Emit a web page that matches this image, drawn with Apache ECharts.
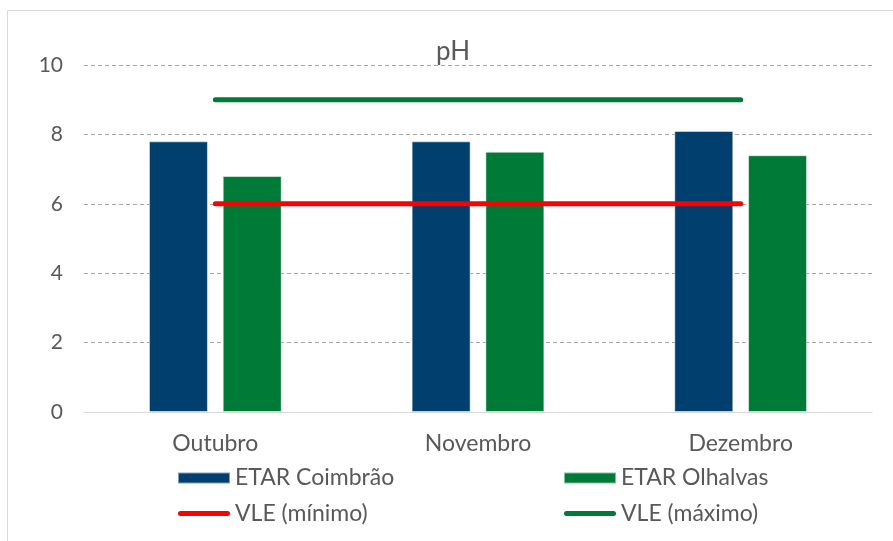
<!DOCTYPE html>
<html>
<head>
<meta charset="utf-8">
<script src="https://cdn.jsdelivr.net/npm/echarts@6/dist/echarts.min.js"></script>
<style>
  html, body { margin: 0; padding: 0; background: #fff; }
  #chart { width: 893px; height: 541px; }
</style>
</head>
<body>
<div id="chart"></div>
<script>
var months = ['Outubro', 'Novembro', 'Dezembro'];
var coimbrao = [7.8, 7.8, 8.1];
var olhalvas = [6.8, 7.5, 7.4];
var vleMin = [6, 6, 6];
var vleMax = [9, 9, 9];
var yTicks = [0, 2, 4, 6, 8, 10];

var font = 'Lato';
var txt = '#595959';
// thin rounded bar used as legend icon for the two limit lines
var lineIcon = 'path://M2.5,0 L49.5,0 A2.5,2.5 0 0 1 49.5,5 L2.5,5 A2.5,2.5 0 0 1 2.5,0 Z';

var chart = echarts.init(document.getElementById('chart'));

var legendText = { fontFamily: font, fontSize: 23, color: txt, lineHeight: 24 };

var option = {
  backgroundColor: '#fff',
  textStyle: { fontFamily: font },
  animation: false,
  graphic: [{
    type: 'rect',
    shape: { x: 7.5, y: 10.5, width: 900, height: 600 },
    style: { fill: 'none', stroke: '#d9d9d9', lineWidth: 1 },
    silent: true
  }],
  title: {
    text: 'pH',
    left: 436,
    top: 39,
    padding: 0,
    textStyle: { fontFamily: font, fontSize: 26, fontWeight: 'normal', color: txt }
  },
  legend: [{
    orient: 'vertical',
    left: 177,
    top: 466,
    padding: 0,
    itemWidth: 52,
    itemHeight: 11,
    itemGap: 11.5,
    textStyle: legendText,
    data: [
      { name: 'ETAR Coimbrão', icon: 'rect' },
      { name: 'VLE (mínimo)', icon: lineIcon }
    ]
  }, {
    orient: 'vertical',
    left: 563,
    top: 466,
    padding: 0,
    itemWidth: 52,
    itemHeight: 11,
    itemGap: 11.5,
    textStyle: legendText,
    data: [
      { name: 'ETAR Olhalvas', icon: 'rect' },
      { name: 'VLE (máximo)', icon: lineIcon }
    ]
  }],
  grid: { left: 84, right: 21, top: 65, bottom: 129 },
  xAxis: {
    type: 'category',
    data: months,
    axisLine: { lineStyle: { color: '#d9d9d9', width: 1 } },
    axisTick: { show: false },
    axisLabel: { fontFamily: font, fontSize: 23, color: txt, margin: 20 }
  },
  yAxis: {
    type: 'value',
    min: yTicks[0],
    max: yTicks[yTicks.length - 1],
    interval: 2,
    axisLine: { show: false },
    axisTick: { show: false },
    axisLabel: { fontFamily: font, fontSize: 21, color: txt, margin: 21 },
    splitLine: { lineStyle: { color: '#a6a6a6', type: [4, 3], width: 1 } }
  },
  series: [{
    name: 'ETAR Coimbrão',
    type: 'bar',
    data: coimbrao,
    barWidth: 59,
    barGap: '25%',
    itemStyle: { color: '#003f6e', borderColor: 'rgba(255,255,255,0.5)', borderWidth: 1 }
  }, {
    name: 'ETAR Olhalvas',
    type: 'bar',
    data: olhalvas,
    barWidth: 59,
    barGap: '25%',
    itemStyle: { color: '#007a37', borderColor: 'rgba(255,255,255,0.5)', borderWidth: 1 }
  }, {
    name: 'VLE (mínimo)',
    type: 'line',
    data: vleMin,
    symbol: 'none',
    z: 5,
    color: '#ff0000',
    lineStyle: { color: '#ff0000', width: 5, cap: 'round' }
  }, {
    name: 'VLE (máximo)',
    type: 'line',
    data: vleMax,
    symbol: 'none',
    z: 5,
    color: '#007a37',
    lineStyle: { color: '#007a37', width: 5, cap: 'round' }
  }]
};

chart.setOption(option);
</script>
</body>
</html>
